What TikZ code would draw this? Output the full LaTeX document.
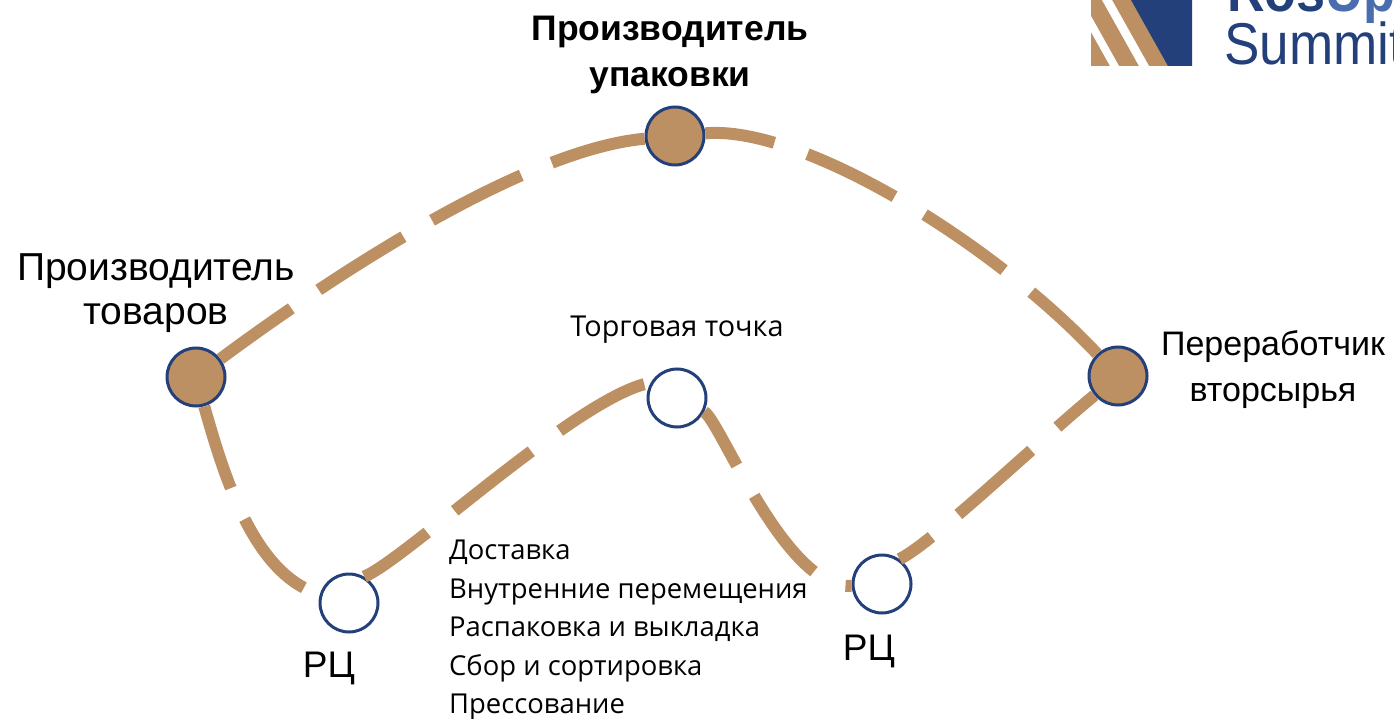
\documentclass[tikz,border=0pt]{standalone}
\usepackage{fontspec}
\setmainfont{Liberation Sans}
\newfontfamily\notefont{Open Sans}
\definecolor{tanline}{HTML}{BD9063}
\definecolor{navyring}{HTML}{24407B}
\definecolor{upblue}{HTML}{4A6DB0}
\tikzset{
  filled/.style={shape=circle, draw=navyring, line width=3pt, fill=tanline, minimum size=58pt, inner sep=0pt},
  hollow/.style={shape=circle, draw=navyring, line width=3pt, fill=white, minimum size=58pt, inner sep=0pt},
  route/.style={draw=tanline, line width=12pt},
  biglabel/.style={align=center, inner sep=0pt, font=\fontsize{39}{44}\selectfont},
  smalllabel/.style={align=left, inner sep=0pt, font=\notefont\fontsize{27.4}{38.5}\selectfont},
}
\begin{document}
\begin{tikzpicture}[x=1pt, y=-1pt]
\useasboundingbox (0,0) rectangle (1394,719);
\node(goods)[filled] at (196,377){};
\node(pack)[filled] at (675,136){};
\node(recycler)[filled] at (1118,376){};
\node(shop)[hollow] at (677,398){};
\node(dcleft)[hollow] at (349,603){};
\node(dcright)[hollow] at (882,584){};
\draw [route, dash pattern=on 100pt off 33pt, dash phase=13pt] (goods) .. controls (320,285) and (520,150) .. (pack);
\draw [route, dash pattern=on 97pt off 35pt, dash phase=27pt] (pack) .. controls (800,125) and (990,240) .. (recycler);
\draw [route, dash pattern=on 92pt off 34pt, dash phase=6pt] (goods) .. controls (225,480) and (255,575) .. (dcleft);
\draw [route, dash pattern=on 97pt off 35pt, dash phase=20pt] (dcleft.60) .. controls (405,560) and (580,395) .. (shop.150);
\draw [route, dash pattern=on 97pt off 35pt, dash phase=34pt] (shop) .. controls (720,420) and (785,590) .. (dcright);
\draw [route, dash pattern=on 97pt off 35pt, dash phase=58pt] (dcright.55) .. controls (930,545) and (1040,440) .. (recycler);
\node(packlabel)[biglabel, font=\bfseries\fontsize{35.5}{46}\selectfont] at (670,55){Производитель\\упаковки};
\node(goodslabel)[biglabel] at (156,293){Производитель\\товаров};
\node(recyclerlabel)[biglabel, font=\fontsize{34}{46}\selectfont] at (1273,370){Переработчик\\вторсырья};
\node(shoplabel)[smalllabel, font=\notefont\fontsize{28.8}{38.5}\selectfont] at (677,330){Торговая точка};
\node(dcleftlabel)[biglabel, font=\fontsize{37}{44}\selectfont] at (329,668){РЦ};
\node(dcrightlabel)[biglabel, font=\fontsize{37}{44}\selectfont] at (869,651){РЦ};
\node(worklist)[smalllabel, anchor=north west] at (449,540){Доставка\\Внутренние перемещения\\Распаковка и выкладка\\Сбор и сортировка\\Прессование};
\fill[tanline] (1091,0) rectangle (1168,66);
\fill[navyring] (1131,0) -- (1192,0) -- (1192,66) -- (1168,66) -- cycle;
\fill[white] (1102,0) -- (1112,0) -- (1149,66) -- (1139,66) -- cycle;
\fill[white] (1091,16) -- (1119,66) -- (1110,66) -- (1091,32) -- cycle;
\begin{scope}
\clip (1200,0) rectangle (1394,70);
\node(summit)[anchor=base west, inner sep=0pt, text=navyring, xscale=0.9, transform shape, font=\fontsize{59}{59}\selectfont] at (1224,65){Summit};
\node(rosup)[anchor=base west, inner sep=0pt, text=navyring, xscale=0.9, transform shape, font=\bfseries\fontsize{58}{58}\selectfont] at (1227,12){Ros\textcolor{upblue}{Up}};
\end{scope}
\end{tikzpicture}
\end{document}
